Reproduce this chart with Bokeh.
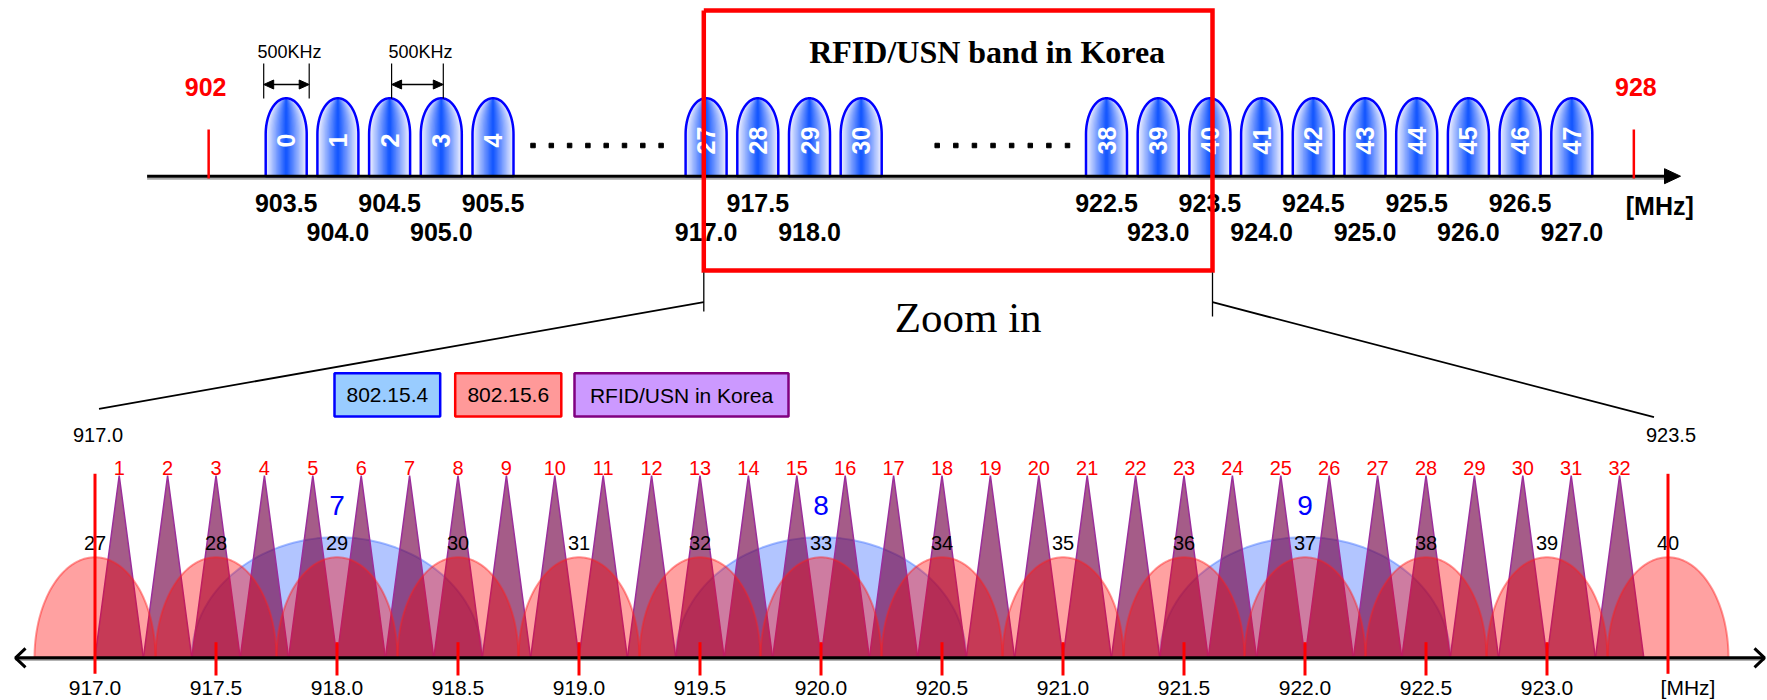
import numpy as np
from bokeh.plotting import figure
from bokeh.models import Range1d
from bokeh.core.properties import value
from bokeh.embed import file_html
from bokeh.resources import INLINE

# ---------------- data ----------------
# upper overview: 500 kHz channels (shown in three groups with gaps)
top_group_a = [0, 1, 2, 3, 4]
top_group_b = [27, 28, 29, 30]
top_group_c = [38, 39, 40, 41, 42, 43, 44, 45, 46, 47]
top_freq_channels = [0, 1, 2, 3, 4, 27, 28, 29, 38, 39, 40, 41, 42, 43, 44, 45, 46, 47]
top_freq_labels = ["903.5", "904.0", "904.5", "905.0", "905.5", "917.0", "917.5", "918.0",
                   "922.5", "923.0", "923.5", "924.0", "924.5", "925.0", "925.5", "926.0",
                   "926.5", "927.0"]
band_edges = ["902", "928"]
spacing_text = "500KHz"
box_title = "RFID/USN band in Korea"
zoom_text = "Zoom in"

# lower zoom: 917.0 - 923.5 MHz
rfid_ch = list(range(1, 33))
rfid_mhz = [917.1, 917.3, 917.5, 917.7, 917.9, 918.1, 918.3, 918.5, 918.7, 918.9,
            919.1, 919.3, 919.5, 919.7, 919.9, 920.1, 920.3, 920.5, 920.7, 920.9,
            921.1, 921.3, 921.5, 921.7, 921.9, 922.1, 922.3, 922.5, 922.7, 922.9,
            923.1, 923.3]
rfid_bw = 0.2
wban_ch = list(range(27, 41))
wban_mhz = [917.0, 917.5, 918.0, 918.5, 919.0, 919.5, 920.0, 920.5, 921.0, 921.5,
            922.0, 922.5, 923.0, 923.5]
wban_bw = 0.5
zig_ch = [7, 8, 9]
zig_mhz = [918.0, 920.0, 922.0]
zig_bw = 1.2
tick_mhz = [917.0, 917.5, 918.0, 918.5, 919.0, 919.5, 920.0, 920.5, 921.0, 921.5,
            922.0, 922.5, 923.0]
zoom_span = [917.0, 923.5]
unit_text = "[MHz]"
legend_labels = ["802.15.4", "802.15.6", "RFID/USN in Korea"]
legend_fill = ["#99CCFF", "#FF9999", "#CC99FF"]
legend_line = ["#0000FF", "#FF0000", "#800080"]

# ---------------- layout ----------------
SANS = "Liberation Sans"
SERIF = "Liberation Serif"
p = figure(width=1767, height=700, x_range=Range1d(0, 1767), y_range=Range1d(0, 700),
           output_backend="svg", toolbar_location=None, x_axis_type=None, y_axis_type=None,
           min_border=0, outline_line_color=None, background_fill_color="white",
           border_fill_color="white")


def Y(v):
    return 700.0 - np.asarray(v, dtype=float)


def txt(xs, ys, texts, size, color="black", style="normal", font=SANS, angle=0.0,
        align="center"):
    texts = [texts] if isinstance(texts, str) else list(texts)
    n = len(texts)
    xs = np.broadcast_to(np.atleast_1d(np.asarray(xs, dtype=float)), (n,))
    ys = np.broadcast_to(np.atleast_1d(np.asarray(ys, dtype=float)), (n,))
    p.text(x=list(xs), y=list(Y(ys)), text=texts, text_font=value(font),
           text_font_size=f"{size}px", text_font_style=style, text_color=color,
           angle=angle, text_align=align, text_baseline="middle")


# ---- upper overview scale (broken axis) ----
TOP_GROUP_START = {0: 285.7, 27: 705.6, 38: 1106.0}
TOP_STEP = 51.7
TOP_AXIS = 175.7


def top_x(ch):
    start = max(s for s in TOP_GROUP_START if s <= ch)
    return TOP_GROUP_START[start] + (ch - start) * TOP_STEP


top_channels = top_group_a + top_group_b + top_group_c
tcx = np.array([top_x(c) for c in top_channels])

# gradient bullets
HW, ARCH_BASE, ARCH_H = 20.5, 133.7, 36.0
tt = np.linspace(np.pi, 0, 48)


def bullet(cx, s):
    a = HW * s
    xs = np.concatenate([[cx - a], cx + a * np.cos(tt), [cx + a]])
    ys = np.concatenate([[TOP_AXIS], ARCH_BASE - ARCH_H * np.sin(tt), [TOP_AXIS]])
    return list(xs), list(Y(ys))


edge_rgb = np.array([238, 240, 255])
core_rgb = np.array([22, 88, 255])
NL = 16
for i in range(NL):
    s = 1.0 - i / NL
    frac = i / (NL - 1)
    r, g, b = (edge_rgb + (core_rgb - edge_rgb) * frac).astype(int)
    shapes = [bullet(cx, s) for cx in tcx]
    p.patches(xs=[sh[0] for sh in shapes], ys=[sh[1] for sh in shapes],
              fill_color=f"#{r:02x}{g:02x}{b:02x}", line_color=None)
shapes = [bullet(cx, 1.0) for cx in tcx]
p.patches(xs=[sh[0] for sh in shapes], ys=[sh[1] for sh in shapes],
          fill_color=None, line_color="#0000FF", line_width=2.5)
txt(tcx, 140.0, [str(c) for c in top_channels], 25, color="white", style="bold",
    angle=np.pi / 2)

# ellipsis dots
dots1 = np.linspace(top_x(4) + 40, top_x(27) - 45, 8)
dots2 = np.linspace(top_x(30) + 76, top_x(38) - 39, 8)
dx = np.concatenate([dots1, dots2])
p.scatter(x=list(dx), y=list(Y(np.full(len(dx), 145.0))), marker="square", size=4.5,
          fill_color="black", line_color="black")

# top axis with arrow
ax_l, ax_r = 146.6, 1680.0
p.line(x=[ax_l, ax_r - 14], y=list(Y([178.2, 178.2])), line_color="#a8a8a8", line_width=2)
p.line(x=[ax_l, ax_r - 10], y=list(Y([TOP_AXIS, TOP_AXIS])), line_color="black", line_width=3)
p.patch(x=[ax_r - 16, ax_r, ax_r - 16], y=list(Y([TOP_AXIS - 7.5, TOP_AXIS, TOP_AXIS + 7.5])),
        fill_color="black", line_color="black")

# band edges 902 / 928
edge_x = [top_x(0) - 1.5 * TOP_STEP, top_x(47) + 1.2 * TOP_STEP]
p.multi_line(xs=[[x, x] for x in edge_x], ys=[list(Y([129, 178]))] * 2,
             line_color="red", line_width=2.5)
txt([edge_x[0] - 3, edge_x[1] + 2], 86.0, band_edges, 25, color="red", style="bold")

# frequency labels under the top axis
tfx = [top_x(c) for c in top_freq_channels]
tfy = [202.5 if lab.endswith(".5") else 231.0 for lab in top_freq_labels]
txt(tfx, tfy, top_freq_labels, 25, style="bold")
txt(top_x(47) + 88, 205.5, unit_text, 25, style="bold")

# 500 kHz dimension markers
dims = [(top_x(0) - 22.5, top_x(0) + 23.0), (top_x(2) + 2, top_x(3) + 2)]
for x1, x2 in dims:
    p.multi_line(xs=[[x1, x1], [x2, x2]], ys=[list(Y([63, 98]))] * 2,
                 line_color="black", line_width=1.2)
    p.line(x=[x1 + 8, x2 - 8], y=list(Y([84, 84])), line_color="black", line_width=1.5)
    p.patch(x=[x1 + 10, x1, x1 + 10], y=list(Y([79.5, 84, 88.5])), fill_color="black",
            line_color="black")
    p.patch(x=[x2 - 10, x2, x2 - 10], y=list(Y([79.5, 84, 88.5])), fill_color="black",
            line_color="black")
    txt((x1 + x2) / 2 + 3, 51.7, spacing_text, 18)

# red box around Korean band
bl, br, bt, bb = top_x(27) - 2.3, top_x(40) + 2.6, 10.0, 270.0
p.line(x=[bl, br, br, bl, bl], y=list(Y([bt, bt, bb, bb, bt])), line_color="red",
       line_width=4.5, line_join="miter")
txt((bl + br) / 2 + 29, 51.7, box_title, 32, style="bold", font=SERIF)
txt((bl + br) / 2 + 10, 317.0, zoom_text, 43, font=SERIF)

# ---- lower zoom scale (linear) ----
BX0, PX_MHZ = 94.5, 242.0
BOT_AXIS = 657.3


def bx(f):
    return BX0 + (np.asarray(f, dtype=float) - 917.0) * PX_MHZ


# zoom guide lines
zl, zr = bx(zoom_span[0]), bx(zoom_span[1])
p.multi_line(xs=[[bl, bl], [br, br]], ys=[list(Y([272, 311])), list(Y([272, 316]))],
             line_color="black", line_width=1.3)
p.multi_line(xs=[[bl, zl + 4], [br, zr - 14]], ys=[list(Y([301.7, 408.3])), list(Y([301.7, 416.7]))],
             line_color="black", line_width=1.8)
txt([zl + 3, zr + 3], 434.0, ["%.1f" % zoom_span[0], "%.1f" % zoom_span[1]], 20)

# legend
lg_x = [(334, 439.7), (454.7, 560.8), (574, 788)]
for (x1, x2), lab, fc, lc in zip(lg_x, legend_labels, legend_fill, legend_line):
    p.quad(left=x1, right=x2, top=float(Y(372.7)), bottom=float(Y(416)), fill_color=fc,
           line_color=lc, line_width=2.5)
    txt((x1 + x2) / 2, 394.5, lab, 21)

tb = np.linspace(np.pi, 0, 80)

# 802.15.4 domes (blue)
zx = [list(bx(f + zig_bw / 2 * np.cos(tb))) for f in zig_mhz]
zy = [list(Y(BOT_AXIS - 120.6 * np.sin(tb)))] * len(zig_mhz)
p.patches(xs=zx, ys=zy, fill_color="#0040FF", fill_alpha=0.3, line_color="#4070FF",
          line_alpha=0.45, line_width=2)

# RFID/USN triangles
tri_xs = [list(bx([f - rfid_bw / 2, f, f + rfid_bw / 2])) for f in rfid_mhz]
tri_ys = [list(Y([BOT_AXIS, 475.0, BOT_AXIS]))] * len(rfid_mhz)
p.patches(xs=tri_xs, ys=tri_ys, fill_color="#77084A", fill_alpha=0.66,
          line_color="#9B2E9B", line_width=1.5)

# 802.15.6 domes (red)
wx = [list(bx(f + wban_bw / 2 * np.cos(tb))) for f in wban_mhz]
wy = [list(Y(BOT_AXIS - 100.6 * np.sin(tb)))] * len(wban_mhz)
p.patches(xs=wx, ys=wy, fill_color="#FF0000", fill_alpha=0.37, line_color="#FF2020",
          line_alpha=0.45, line_width=2)

# channel labels
txt(bx(rfid_mhz), 467.3, [str(c) for c in rfid_ch], 20, color="red")
txt(bx(zig_mhz), 505.0, [str(c) for c in zig_ch], 28, color="#0000FF")
txt(bx(wban_mhz), 542.7, [str(c) for c in wban_ch], 20)

# lower axis with open arrow heads
p.line(x=[15, 1764], y=list(Y([659.3, 659.3])), line_color="#9a9a9a", line_width=2)
p.line(x=[15, 1764], y=list(Y([BOT_AXIS, BOT_AXIS])), line_color="black", line_width=3)
p.multi_line(xs=[[25, 15, 25], [1754, 1764, 1754]],
             ys=[list(Y([BOT_AXIS - 9.5, BOT_AXIS, BOT_AXIS + 9.5]))] * 2,
             line_color="black", line_width=3)

# ticks
p.multi_line(xs=[[x, x] for x in bx(tick_mhz[1:])], ys=[list(Y([641.7, 675]))] * (len(tick_mhz) - 1),
             line_color="red", line_width=3)
p.multi_line(xs=[[x, x] for x in bx(zoom_span)], ys=[list(Y([473.3, 673.3]))] * 2,
             line_color="red", line_width=3)
txt(bx(tick_mhz), 687.0, ["%.1f" % f for f in tick_mhz], 21)
txt(bx(zoom_span[1]) + 20, 687.0, unit_text, 21)

open("out.html", "w").write(file_html(p, INLINE))
